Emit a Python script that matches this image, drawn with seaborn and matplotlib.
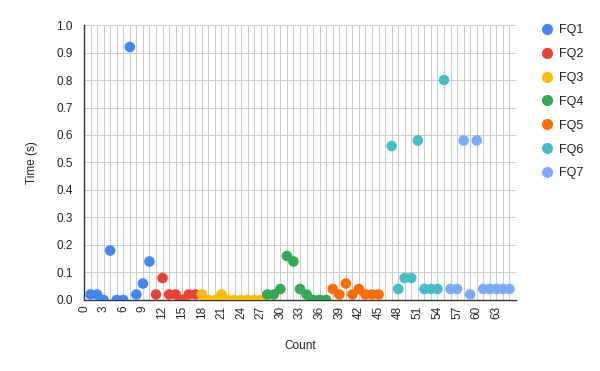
import matplotlib
matplotlib.use('Agg')
import matplotlib.pyplot as plt
from matplotlib.ticker import MultipleLocator, FixedLocator
from matplotlib.lines import Line2D
import seaborn as sns
import pandas as pd

# values, one list per series (x starts where the series starts)
fq1 = [0.02, 0.02, 0.0, 0.18, 0.0, 0.0, 0.92, 0.02, 0.06, 0.14]
fq2 = [0.02, 0.08, 0.02, 0.02, 0.0, 0.02, 0.02]
fq3 = [0.02, 0.0, 0.0, 0.02, 0.0, 0.0, 0.0, 0.0, 0.0, 0.0]
fq4 = [0.02, 0.02, 0.04, 0.16, 0.14, 0.04, 0.02, 0.0, 0.0, 0.0]
fq5 = [0.04, 0.02, 0.06, 0.02, 0.04, 0.02, 0.02, 0.02]
fq6 = [0.56, 0.04, 0.08, 0.08, 0.58, 0.04, 0.04, 0.04, 0.80]
fq7 = [0.04, 0.04, 0.58, 0.02, 0.58, 0.04, 0.04, 0.04, 0.04, 0.04]
starts = [1, 11, 18, 28, 38, 47, 56]
names = ['FQ1', 'FQ2', 'FQ3', 'FQ4', 'FQ5', 'FQ6', 'FQ7']
colors = ['#4285F4', '#EA4335', '#FBBC04', '#34A853', '#FF6D01', '#46BDC6', '#7BAAF7']
xticks = list(range(0, 64, 3))

rows = []
for name, start, vals in zip(names, starts, [fq1, fq2, fq3, fq4, fq5, fq6, fq7]):
    for i, v in enumerate(vals):
        rows.append({'Count': start + i, 'Time': v, 'Series': name})
df = pd.DataFrame(rows)

sns.set_style('white')
plt.rcParams['font.family'] = ['Liberation Sans', 'DejaVu Sans']

fig = plt.figure(figsize=(6, 3.71), dpi=100)
ax = fig.add_axes([0.14, 0.1914, 0.72, 0.7412])

sns.scatterplot(data=df, x='Count', y='Time', hue='Series', hue_order=names,
                palette=colors, s=58, linewidth=0, legend=False, ax=ax, zorder=3)

ax.set_xlim(0, 66)
ax.set_ylim(0, 1.0)
ax.xaxis.set_major_locator(FixedLocator(xticks))
ax.xaxis.set_minor_locator(MultipleLocator(1))
ax.yaxis.set_major_locator(MultipleLocator(0.1))
ax.set_yticklabels([f'{t:.1f}' for t in ax.get_yticks()])
ax.grid(True, which='both', axis='x', color='#cccccc', linewidth=0.75)
ax.grid(True, which='major', axis='y', color='#cccccc', linewidth=0.75)
ax.set_axisbelow(True)

for s in ['top', 'right']:
    ax.spines[s].set_visible(False)
for s in ['left', 'bottom']:
    ax.spines[s].set_color('#333333')
    ax.spines[s].set_linewidth(1.0)

ax.tick_params(axis='x', which='both', length=0, labelsize=8.5, labelcolor='#222222',
               labelrotation=90, pad=4)
ax.tick_params(axis='y', length=5, color='#cccccc', labelsize=8.5, labelcolor='#222222', pad=3)

ax.set_xlabel('Count', fontsize=8.5, color='#222222', labelpad=15)
ax.set_ylabel('Time (s)', fontsize=8.5, color='#222222', labelpad=13)

handles = [Line2D([0], [0], marker='o', linestyle='', markersize=8,
                  markerfacecolor=c, markeredgewidth=0) for c in colors]
fig.legend(handles, names, loc='upper left', bbox_to_anchor=(0.88, 0.965),
           frameon=False, fontsize=9, labelspacing=0.95, handletextpad=0.35,
           handlelength=1.2, labelcolor='#222222')

fig.savefig('out.png', dpi=100)
